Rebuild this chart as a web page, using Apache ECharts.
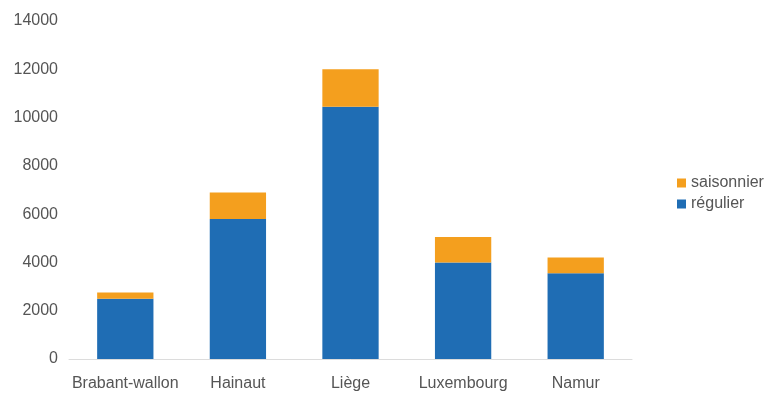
<!DOCTYPE html>
<html>
<head>
<meta charset="utf-8">
<script src="https://cdn.jsdelivr.net/npm/echarts@6/dist/echarts.min.js"></script>
<style>
  html, body { margin: 0; padding: 0; background: #ffffff; }
  #chart { width: 769px; height: 394px; }
</style>
</head>
<body>
<div id="chart"></div>
<script>
// Provinces of Wallonia
const provinces = ['Brabant-wallon', 'Hainaut', 'Liège', 'Luxembourg', 'Namur'];
// Regular workers per province
const regulier = [2500, 5800, 10450, 4000, 3550];
// Seasonal workers per province (stacked on top)
const saisonnier = [250, 1100, 1550, 1050, 650];
// Value axis scale
const yMax = 14000;
const yStep = 2000;

const textColor = '#555555';
const fontFamily = '"Liberation Sans", Arial, sans-serif';

const chart = echarts.init(document.getElementById('chart'), null, { renderer: 'canvas' });
chart.setOption({
  animation: false,
  textStyle: { fontFamily: fontFamily },
  grid: { left: 69, right: 137, top: 21, bottom: 35, containLabel: false },
  legend: {
    orient: 'vertical',
    left: 672,
    top: 170,
    itemWidth: 9,
    itemHeight: 9,
    itemGap: 5,
    icon: 'rect',
    data: ['saisonnier', 'régulier'],
    textStyle: { color: textColor, fontSize: 16, fontFamily: fontFamily }
  },
  xAxis: {
    type: 'category',
    data: provinces,
    axisLine: { show: true, lineStyle: { color: '#dcdcdc', width: 1 } },
    axisTick: { show: false },
    axisLabel: { color: textColor, fontSize: 16, margin: 17, interval: 0 }
  },
  yAxis: {
    type: 'value',
    min: 0,
    max: yMax,
    interval: yStep,
    axisLine: { show: false },
    axisTick: { show: false },
    splitLine: { show: false },
    axisLabel: { color: textColor, fontSize: 16, margin: 11, formatter: (v) => String(v) }
  },
  series: [
    {
      name: 'régulier',
      type: 'bar',
      stack: 'total',
      barWidth: '50%',
      itemStyle: { color: '#1f6db4' },
      data: regulier
    },
    {
      name: 'saisonnier',
      type: 'bar',
      stack: 'total',
      barWidth: '50%',
      itemStyle: { color: '#f49f1e' },
      data: saisonnier
    }
  ]
});
</script>
</body>
</html>
